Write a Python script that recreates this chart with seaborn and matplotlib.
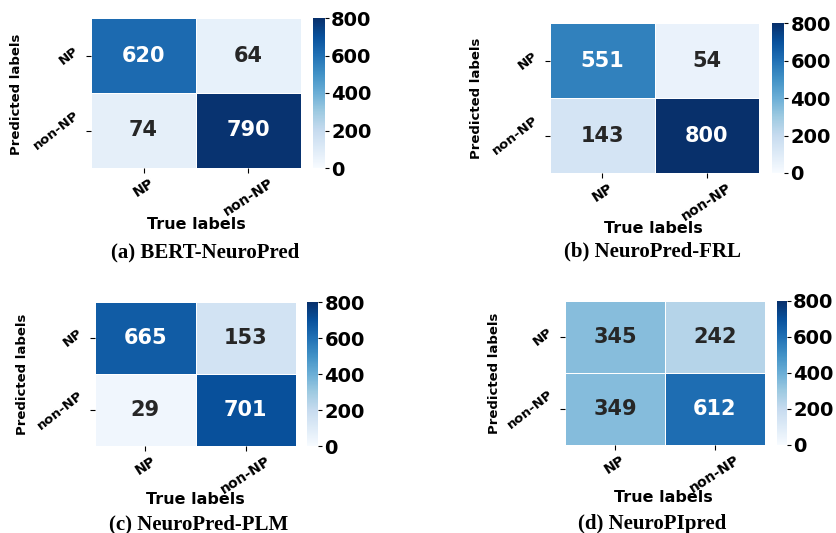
import numpy as np
import matplotlib
matplotlib.use("Agg")
import matplotlib.pyplot as plt
import seaborn as sns

# Confusion matrices (rows: predicted, columns: true)
labels = ["NP", "non-NP"]
bert_neuropred = [[620, 64], [74, 790]]
neuropred_frl = [[551, 54], [143, 800]]
neuropred_plm = [[665, 153], [29, 701]]
neuropipred = [[345, 242], [349, 612]]
captions = ["(a) BERT-NeuroPred", "(b) NeuroPred-FRL",
            "(c) NeuroPred-PLM", "(d) NeuroPIpred"]
cbar_ticks = [0, 200, 400, 600, 800]

W, H = 836, 533
fig = plt.figure(figsize=(W / 100, H / 100), dpi=100)


def box(x0, y0, x1, y1):
    return [x0 / W, 1 - y1 / H, (x1 - x0) / W, (y1 - y0) / H]


def pt(x, y):
    return x / W, 1 - y / H


# pixel layout: heatmap box, colorbar box, xlabel centre, ylabel centre, caption baseline
layout = [
    ((91, 18, 301, 168), (313, 18, 325, 168), (196, 224), (17, 94), (205, 257)),
    ((550, 23, 759, 173), (772, 23, 784, 173), (653, 228), (476, 98), (652, 256)),
    ((95, 302, 296, 446), (307, 302, 318, 446), (195, 500), (23, 374), (199, 529)),
    ((565, 301, 765, 445), (777, 301, 787, 445), (663, 498), (494, 373), (652, 529)),
]
matrices = [bert_neuropred, neuropred_frl, neuropred_plm, neuropipred]

for mat, cap, (hb, cb, xl, yl, cp) in zip(matrices, captions, layout):
    ax = fig.add_axes(box(*hb))
    cax = fig.add_axes(box(*cb))
    sns.heatmap(np.array(mat), ax=ax, cbar_ax=cax, cmap="Blues", vmin=0, vmax=800,
                annot=True, fmt="d", linewidths=0.5, linecolor="white",
                xticklabels=labels, yticklabels=labels,
                annot_kws={"fontsize": 15, "fontweight": "bold"},
                cbar_kws={"ticks": cbar_ticks})
    ax.set_xticklabels(labels, rotation=33, ha="center", fontsize=10, fontweight="bold")
    ax.set_yticklabels(labels, rotation=38, ha="right", va="center",
                       fontsize=9.5, fontweight="bold")
    ax.tick_params(axis="x", pad=2)
    ax.set_xlabel("True labels", fontsize=11.5, fontweight="bold")
    ax.set_ylabel("Predicted labels", fontsize=9.5, fontweight="bold")
    ax.xaxis.set_label_coords(*pt(*xl), transform=fig.transFigure)
    ax.xaxis.label.set_va("center")
    ax.yaxis.set_label_coords(*pt(*yl), transform=fig.transFigure)
    ax.yaxis.label.set_va("center")
    cax.tick_params(labelsize=14, pad=1.5, length=3)
    for t in cax.get_yticklabels():
        t.set_fontweight("bold")
    fig.text(*pt(*cp), cap, ha="center", va="baseline", fontsize=15,
             fontweight="bold", family="Liberation Serif")

fig.savefig("out.png", dpi=100)
